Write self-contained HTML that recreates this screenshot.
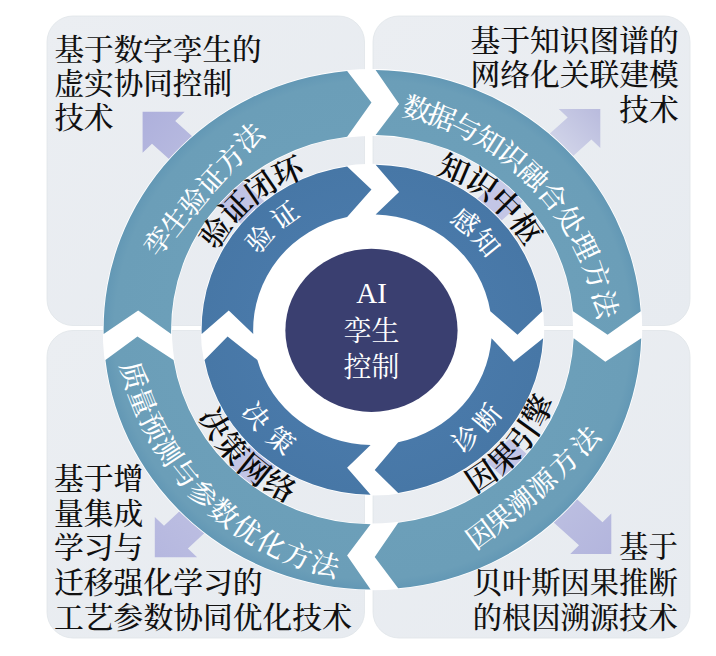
<!DOCTYPE html>
<html lang="zh-CN"><head><meta charset="utf-8"><title>AI孪生控制</title>
<style>
html,body{margin:0;padding:0;background:#fff;}
body{width:716px;height:656px;overflow:hidden;position:relative;font-family:'Liberation Serif','Noto Serif CJK SC',serif;}
svg{position:absolute;left:0;top:0;display:block}
.lbl{position:absolute;margin:0;font-size:29.3px;line-height:35px;color:#111;white-space:nowrap;font-weight:500}
</style></head><body>
<svg width="716" height="656" viewBox="0 0 716 656" font-family="'Liberation Serif','Noto Serif CJK SC',serif">
<defs>
<linearGradient id="qbg" x1="0" y1="0" x2="1" y2="1"><stop offset="0" stop-color="#ebeef2"/><stop offset="1" stop-color="#e7ebf0"/></linearGradient>
<linearGradient id="gTL" gradientUnits="userSpaceOnUse" x1="142" y1="112" x2="250" y2="210"><stop offset="0" stop-color="#aeb0dc"/><stop offset="0.5" stop-color="#b9bce0"/><stop offset="1" stop-color="#c3c6e6"/></linearGradient>
<linearGradient id="gTR" gradientUnits="userSpaceOnUse" x1="600" y1="109" x2="500" y2="205"><stop offset="0" stop-color="#b9bbdd"/><stop offset="0.35" stop-color="#cdd0e7"/><stop offset="0.6" stop-color="#dadeed"/><stop offset="0.75" stop-color="#cfd2ea"/><stop offset="1" stop-color="#c3c6e6"/></linearGradient>
<linearGradient id="gBL" gradientUnits="userSpaceOnUse" x1="154" y1="557" x2="250" y2="455"><stop offset="0" stop-color="#b5b7df"/><stop offset="0.5" stop-color="#bdbfe2"/><stop offset="1" stop-color="#c3c6e6"/></linearGradient>
<linearGradient id="gBR" gradientUnits="userSpaceOnUse" x1="611" y1="555" x2="510" y2="447"><stop offset="0" stop-color="#b3b5dd"/><stop offset="0.5" stop-color="#bcbfe1"/><stop offset="1" stop-color="#c3c6e6"/></linearGradient>
<radialGradient id="gOuter" gradientUnits="userSpaceOnUse" cx="0" cy="0" r="259.8"><stop offset="0.75" stop-color="#6c9fb9"/><stop offset="0.96" stop-color="#6b9eb8"/><stop offset="1" stop-color="#6398b5"/></radialGradient>
<radialGradient id="gInner" gradientUnits="userSpaceOnUse" cx="0" cy="0" r="165.1"><stop offset="0.7" stop-color="#4979a9"/><stop offset="1" stop-color="#4777a6"/></radialGradient>
</defs>
<rect width="716" height="656" fill="#fff"/>
<g fill="url(#qbg)" stroke="#dfe4e8" stroke-width="0.8">
<rect x="47" y="16" width="317.5" height="309.5" rx="26" ry="26"/>
<rect x="373" y="16" width="317" height="309.5" rx="26" ry="26"/>
<rect x="47" y="330.5" width="317.5" height="307.5" rx="26" ry="26"/>
<rect x="373" y="330.5" width="317" height="307.5" rx="26" ry="26"/>
</g>

<path d="M142.6,111.8 L184.6,111.8 L175.2,120.9 L268.1,204.6 L244.9,227.3 L152.0,143.7 L142.6,152.8Z" fill="url(#gTL)"/>
<path d="M600.3,109.0 L558.8,109.0 L567.7,117.4 L474.8,201.0 L498.5,223.3 L591.4,139.6 L600.3,148.0Z" fill="url(#gTR)"/>
<path d="M154.8,557.2 L197.1,557.2 L187.9,548.5 L279.3,463.2 L255.4,440.5 L164.0,525.7 L154.8,517.0Z" fill="url(#gBL)"/>
<path d="M611.3,553.9 L570.2,553.9 L579.0,545.3 L486.1,461.7 L509.6,438.6 L602.5,522.2 L611.3,513.6Z" fill="url(#gBR)"/>
<g transform="translate(372.5,329.7) scale(1.035,1)">
<path d="M0,-260.6 A260.6,260.6 0 1 1 0,260.6 A260.6,260.6 0 1 1 0,-260.6 Z M0,-193.79999999999998 A193.79999999999998,193.79999999999998 0 1 0 0,193.79999999999998 A193.79999999999998,193.79999999999998 0 1 0 0,-193.79999999999998 Z" fill="#fff" fill-rule="evenodd"/>
<path d="M-259.76,4.30 A259.8,259.8 0 0 1 -24.50,-258.64 L-1.00,-227.20 L-24.50,-193.05 A194.6,194.6 0 0 0 -194.55,4.30 L-226.39,-19.20 Z" fill="url(#gOuter)"/>
<path d="M3.00,-259.78 A259.8,259.8 0 0 1 259.15,-18.40 L227.14,5.10 L193.73,-18.40 A194.6,194.6 0 0 0 3.00,-194.58 L25.70,-225.74 Z" fill="url(#gOuter)"/>
<path d="M259.66,8.50 A259.8,259.8 0 0 1 24.83,258.61 L2.13,227.19 L24.83,193.01 A194.6,194.6 0 0 0 194.41,8.50 L224.94,32.00 Z" fill="url(#gOuter)"/>
<path d="M-1.84,259.79 A259.8,259.8 0 0 1 -258.03,30.30 L-227.10,6.80 L-192.23,30.30 A194.6,194.6 0 0 0 -1.84,194.59 L-24.54,225.87 Z" fill="url(#gOuter)"/>
<circle r="165.9" fill="#fff"/>
<path d="M-165.04,4.30 A165.1,165.1 0 0 1 -24.50,-163.27 L-1.00,-140.20 L-24.50,-112.67 A115.3,115.3 0 0 0 -115.22,4.30 L-138.88,-19.20 Z" fill="url(#gInner)"/>
<path d="M3.00,-165.07 A165.1,165.1 0 0 1 164.07,-18.40 L140.11,5.10 L113.82,-18.40 A115.3,115.3 0 0 0 3.00,-115.26 L25.70,-137.82 Z" fill="url(#gInner)"/>
<path d="M164.88,8.50 A165.1,165.1 0 0 1 24.83,163.22 L2.13,140.18 L24.83,112.59 A115.3,115.3 0 0 0 114.99,8.50 L136.50,32.00 Z" fill="url(#gInner)"/>
<path d="M-1.84,165.09 A165.1,165.1 0 0 1 -162.30,30.30 L-140.03,6.80 L-111.25,30.30 A115.3,115.3 0 0 0 -1.84,115.29 L-24.54,138.04 Z" fill="url(#gInner)"/>
<ellipse cx="-1" cy="0.6" rx="83.2" ry="81.6" fill="#3a3f70"/>
</g>
<text font-size="27.5" fill="#fff" font-weight="500" x="158.0 174.9 192.1 209.6 227.5 245.8" y="258.3 238.3 217.9 197.0 175.7 154.0" rotate="-54.7 -52.3 -49.9 -47.5 -45.1 -42.7">孪生验证方法</text>
<text font-size="28" fill="#fff" font-weight="500" x="400.9 425.1 449.1 472.5 495.1 516.4 536.2 554.0 569.5 582.4 592.3" y="115.1 121.4 130.3 141.9 156.1 172.9 192.3 214.2 238.5 264.8 292.9" rotate="15.0 20.7 26.5 32.4 38.4 44.6 50.8 57.2 63.8 70.4 77.2">数据与知识融合处理方法</text>
<text font-size="27.5" fill="#fff" font-weight="500" x="475.2 495.9 517.2 539.0 561.1 583.5" y="550.4 535.2 518.3 499.8 479.5 457.4" rotate="-36.5 -38.3 -40.3 -42.4 -44.6 -46.9">因果溯源方法</text>
<text font-size="28" fill="#fff" font-weight="500" x="120.1 127.9 138.5 151.8 167.7 186.1 206.9 229.8 254.6 281.1 309.0" y="365.1 392.6 419.3 444.9 469.1 491.7 512.3 530.8 546.8 560.2 570.8" rotate="74.3 68.5 62.6 56.8 50.9 44.9 39.0 33.0 27.0 21.0 14.9">质量预测与参数优化方法</text>
<text font-size="30.5" fill="#0a0a0a" font-weight="600" x="216.2 232.7 253.7 278.3" y="250.8 225.9 204.7 187.8" rotate="-56.3 -45.2 -34.2 -23.1">验证闭环</text>
<text font-size="30.5" fill="#0a0a0a" font-weight="600" x="435.7 462.9 487.4 508.4" y="173.5 184.9 201.3 222.0" rotate="23.0 33.9 44.9 55.8">知识中枢</text>
<text font-size="30.5" fill="#0a0a0a" font-weight="600" x="474.7 500.8 523.4 541.8" y="493.8 476.3 454.4 428.8" rotate="-33.7 -43.9 -54.1 -64.3">因果引擎</text>
<text font-size="30.5" fill="#0a0a0a" font-weight="600" x="197.7 214.2 235.7 261.3" y="416.1 444.2 468.9 489.1" rotate="59.9 49.3 38.7 28.1">决策网络</text>
<text font-size="26.5" fill="#fff" font-weight="500" x="258.1 279.7" y="254.7 230.8" rotate="-49.1 -35.5">验证</text>
<text font-size="26.5" fill="#fff" font-weight="500" x="449.1 470.5" y="221.1 238.4" rotate="38.8 50.6">感知</text>
<text font-size="26.5" fill="#fff" font-weight="500" x="461.4 486.6" y="454.8 433.9" rotate="-38.5 -50.7">诊断</text>
<text font-size="26.5" fill="#fff" font-weight="500" x="240.4 264.6" y="411.6 440.0" rotate="51.5 37.6">决策</text>
<g fill="#fff" font-size="28" text-anchor="middle">
<text x="371.5" y="302.5" font-size="29">AI</text>
<text x="371.5" y="340.5">孪生</text>
<text x="371.5" y="376.5">控制</text>
</g>
</svg>

<p class="lbl" style="left:54.5px;top:32.5px;font-size:29.6px;line-height:34.4px">基于数字孪生的<br>虚实协同控制<br>技术</p>
<p class="lbl" style="right:37.3px;top:23.7px;text-align:right;font-size:29.75px;line-height:34.7px">基于知识图谱的<br>网络化关联建模<br>技术</p>
<p class="lbl" style="left:54px;top:461.8px;font-size:29.8px;line-height:34.85px">基于增<br>量集成<br>学习与<br>迁移强化学习的<br>工艺参数协同优化技术</p>
<p class="lbl" style="right:38.3px;top:530.3px;text-align:right;line-height:35.3px">基于<br>贝叶斯因果推断<br>的根因溯源技术</p>
</body></html>
